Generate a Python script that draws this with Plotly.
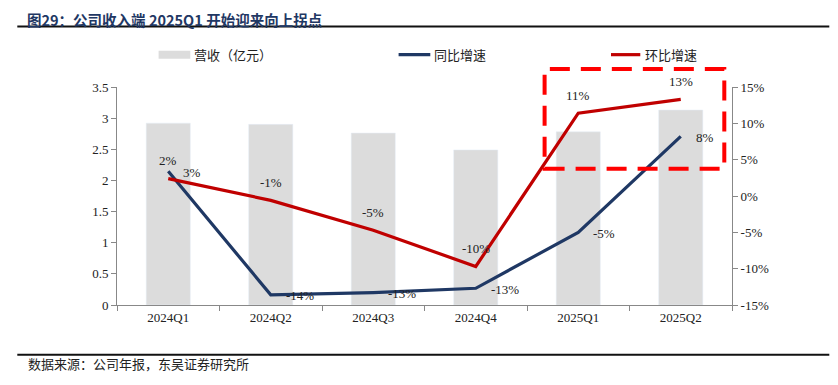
import plotly.graph_objects as go

# ---------------- data ----------------
categories = ["2024Q1", "2024Q2", "2024Q3", "2024Q4", "2025Q1", "2025Q2"]
revenue = [2.92, 2.90, 2.76, 2.49, 2.78, 3.13]          # 营收（亿元）
yoy = [3.4, -13.6, -13.3, -12.7, -5.0, 8.2]             # 同比增速 %
qoq = [2.4, -0.6, -4.7, -9.7, 11.4, 13.3]               # 环比增速 %
left_ticks = [0, 0.5, 1, 1.5, 2, 2.5, 3, 3.5]
right_ticks = [-15, -10, -5, 0, 5, 10, 15]

TITLE = "图29：公司收入端 2025Q1 开始迎来向上拐点"
SOURCE = "数据来源：公司年报，东吴证券研究所"
legend_names = ["营收（亿元）", "同比增速", "环比增速"]

# page has an 8px body margin -> figure placed at (8, 8)
OFF = 8
W, H = 838 - OFF, 385 - OFF
# plot area in page pixel coordinates
L, R, T, B = 116.7, 731.7, 87.3, 305.0
PW, PH = R - L, B - T


def px(x):
    return (x - L) / PW


def py(y):
    return (B - y) / PH


BLUE = "#1F3864"
RED = "#C00000"
GRAY = "#DCDCDC"
SERIF = "Liberation Serif, Times New Roman, serif"
CJK = "Noto Sans CJK SC, sans-serif"

fig = go.Figure()
fig.add_trace(go.Bar(x=categories, y=revenue, width=0.43, marker_color=GRAY,
                     name=legend_names[0], yaxis="y"))
fig.add_trace(go.Scatter(x=categories, y=yoy, mode="lines", name=legend_names[1],
                         line=dict(color=BLUE, width=3.2), yaxis="y2"))
fig.add_trace(go.Scatter(x=categories, y=qoq, mode="lines", name=legend_names[2],
                         line=dict(color=RED, width=3.2), yaxis="y2"))

annotations = []
for c, v in zip(categories, qoq):
    annotations.append(dict(x=c, y=v, xref="x", yref="y2", text=f"{v:.0f}%",
                            showarrow=False, yshift=18, xanchor="center",
                            font=dict(family=SERIF, size=13, color="#222")))
for c, v in zip(categories, yoy):
    annotations.append(dict(x=c, y=v, xref="x", yref="y2", text=f"{v:.0f}%",
                            showarrow=False, xshift=13, yshift=-1, xanchor="left",
                            font=dict(family=SERIF, size=13, color="#222")))

# title, source
annotations.append(dict(x=px(26), y=py(8), xref="paper", yref="paper", text=f"<b>{TITLE}</b>",
                        showarrow=False, xanchor="left", yanchor="top", borderpad=0,
                        font=dict(family=CJK, size=14.5, color=BLUE)))
annotations.append(dict(x=px(26), y=py(363), xref="paper", yref="paper", text=SOURCE,
                        showarrow=False, xanchor="left", yanchor="middle",
                        font=dict(family=CJK, size=13, color="#222")))
# legend texts
for name, xl in zip(legend_names, [192, 432, 643]):
    annotations.append(dict(x=px(xl), y=py(55), xref="paper", yref="paper", text=name,
                            showarrow=False, xanchor="left", yanchor="middle",
                            font=dict(family=CJK, size=13, color="#222")))

shapes = [
    # title / source rules
    dict(type="line", xref="paper", yref="paper", x0=px(17), x1=px(829), y0=py(27), y1=py(27),
         line=dict(color="#111", width=2)),
    dict(type="line", xref="paper", yref="paper", x0=px(17), x1=px(829), y0=py(354.7), y1=py(354.7),
         line=dict(color="#111", width=2)),
    # legend symbols
    dict(type="rect", xref="paper", yref="paper", x0=px(158.3), x1=px(190), y0=py(59), y1=py(51),
         fillcolor=GRAY, line=dict(width=0)),
    dict(type="line", xref="paper", yref="paper", x0=px(398.3), x1=px(430), y0=py(55), y1=py(55),
         line=dict(color=BLUE, width=3.2)),
    dict(type="line", xref="paper", yref="paper", x0=px(610.7), x1=px(640), y0=py(55), y1=py(55),
         line=dict(color=RED, width=3.2)),
    # highlight box
    dict(type="rect", xref="paper", yref="paper", x0=px(544.3), x1=px(724), y0=py(169), y1=py(69.3),
         line=dict(color="#FF0000", width=4, dash="20px,11px"), fillcolor="rgba(0,0,0,0)"),
]

fig.update_layout(
    width=W, height=H,
    margin=dict(l=L - OFF, r=(W + OFF) - R, t=T - OFF, b=(H + OFF) - B, pad=0),
    paper_bgcolor="white", plot_bgcolor="white",
    showlegend=False,
    xaxis=dict(type="category", showline=True, linecolor="#888", linewidth=1,
               ticks="outside", tickson="boundaries", ticklen=5, tickcolor="#888",
               tickfont=dict(family=SERIF, size=13, color="#222"), showgrid=False),
    yaxis=dict(range=[0, 3.5], tickvals=left_ticks, ticktext=[f"{t:g}" for t in left_ticks],
               showline=True, linecolor="#888", linewidth=1, ticks="outside", ticklen=5,
               tickcolor="#888", showgrid=False, zeroline=False,
               tickfont=dict(family=SERIF, size=13, color="#222")),
    yaxis2=dict(range=[-15, 15], tickvals=right_ticks, ticktext=[f"{t}%" for t in right_ticks],
                overlaying="y", side="right", showline=True, linecolor="#888", linewidth=1,
                ticks="outside", ticklen=5, tickcolor="#888", showgrid=False, zeroline=False,
                tickfont=dict(family=SERIF, size=13, color="#222")),
    annotations=annotations,
    shapes=shapes,
)

fig.write_html("out.html")
